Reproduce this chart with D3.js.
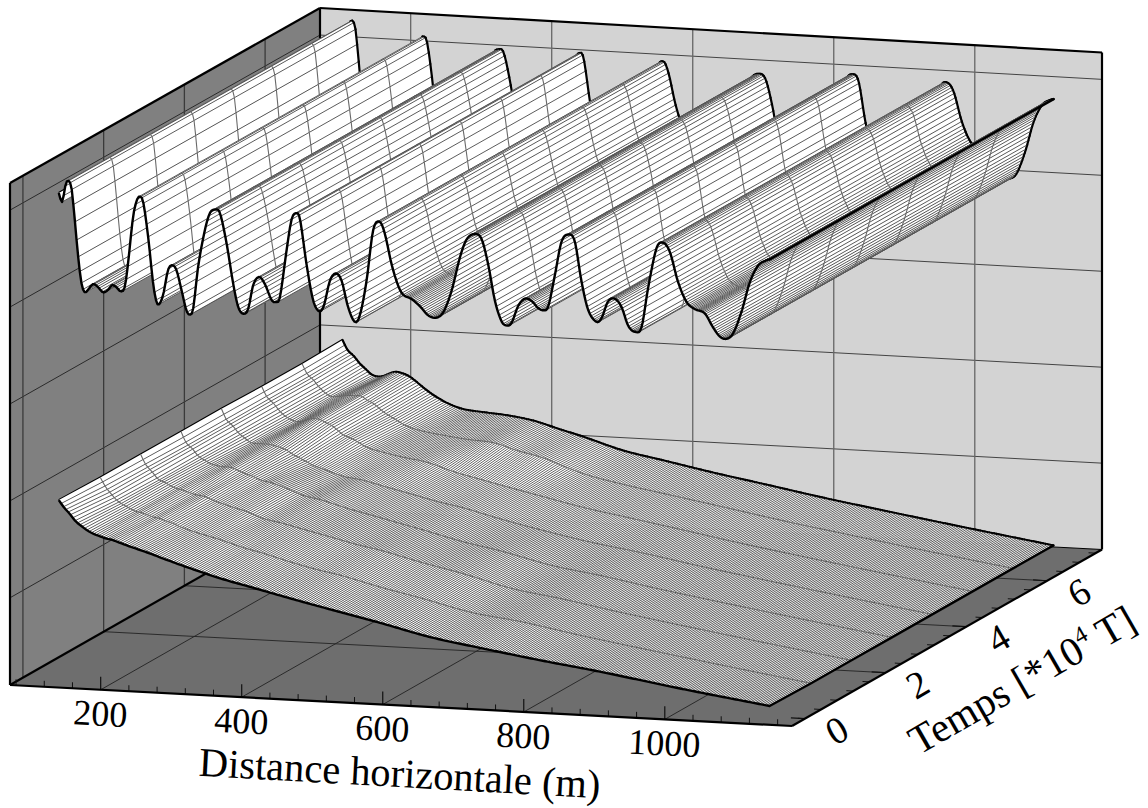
<!DOCTYPE html>
<html><head><meta charset="utf-8">
<style>html,body{margin:0;background:#fff}svg{display:block}text{font-family:"Liberation Serif";fill:#000}</style>
<script src="https://cdn.jsdelivr.net/npm/d3@7"></script></head><body>
<svg id="c" width="1148" height="808"></svg>
<script>
// Axes
const xDomain=[71.4,1180.4], tDomain=[-0.32,7.36], zDomain=[-0.9,4.28];
const xTicks=[200,400,600,800,1000], xMinor=[80,120,160,240,280,320,360,440,480,520,560,640,680,720,760,840,880,920,960,1040,1080,1120,1160];
const tTicks=[0,2,4,6], tMinor=[0.4,0.8,1.2,1.6,2.4,2.8,3.2,3.6,4.4,4.8,5.2,5.6,6.4,6.8,7.2,-0.0];
const zGrid=[0,1,2,3,4];
const tSpan=[-0.03,7.0], tMesh=[1,2,3,4,5,6];
// Upper surface: profile read at the front, extruded along time
const waveX=[124,128.7,134,138.2,142,145.3,151.4,156.2,160.9,165.6,172.7,179.8,186.9,194,199.6,205.9,212,217.6,222.3,229.4,235.1,238.9,243.6,250.7,257.8,262.6,266.3,272,279,285.3,291,298,305.1,309.8,314.5,321.6,331.1,338.2,345.3,352.4,361.9,371.2,378.3,385.4,392.5,399.6,408.1,416.2,425.7,431.8,437.5,447,454,460.2,465.8,475.3,484.7,493.2,499.9,508.4,516.9,525,534.3,543.8,550.9,560.4,569.8,579.3,586.4,595.9,605.3,612.4,624.3,636.1,647.9,658.8,669.2,681.1,692.9,702.4,714.1,723.7,733,742.5,752,759.1,766.1,775.5,785,794.4,803.8,810.9,818,827.5,836.9,847.3,855.8,865.3,874.7,886.6,893.6,903,912.5,922,931.4,940.9,950.4,959.7,971.7,981,990.5,1002.3,1014.2,1026,1040.2,1051.9,1061.4,1071,1080.3,1092.2,1104,1115.8,1127.7,1132.4];
const waveZ=[4.13,4.04,4.23,4.26,4.19,3.97,3.49,3.21,3.12,3.15,3.21,3.18,3.13,3.16,3.21,3.19,3.15,3.2,3.45,3.93,4.11,4.14,4.09,3.73,3.25,3.06,3.04,3.14,3.4,3.45,3.4,3.2,2.99,2.95,3.01,3.45,3.83,4.01,4.05,4.02,3.71,3.3,3.06,2.99,3.04,3.29,3.38,3.31,3.15,3.13,3.18,3.67,3.99,4.06,4.01,3.54,3.17,3.06,3.12,3.38,3.46,3.39,3.12,2.97,3.04,3.4,3.93,4.02,3.9,3.59,3.37,3.28,3.24,3.17,3.08,3.06,3.12,3.35,3.7,3.89,3.95,3.9,3.64,3.27,3.06,3.02,3.05,3.23,3.31,3.29,3.22,3.2,3.24,3.57,3.92,4,3.93,3.52,3.23,3.11,3.15,3.33,3.36,3.28,3.09,3.03,3.08,3.49,3.91,3.97,3.88,3.57,3.37,3.3,3.26,3.12,3.03,3.01,3.07,3.3,3.61,3.79,3.85,3.86];
// Lower surface: one profile per time station
const flatT=[-0.03,1,2,3,4,5,6,7];
const flatX=[124,131,140,148,157,165,174,182,191,199,208,216,225,239,253,274,296,324,359,395,430,466,522,579,650,721,806,891,1005,1132];
const flatT0=[.96,.89,.82,.75,.70,.66,.63,.61,.59,.58,.56,.54,.52,.49,.46,.41,.36,.30,.23,.17,.11,.05,-.04,-.13,-.25,-.335,-.43,-.516,-.647,-.78];
const flatT1=[.95,.86,.78,.72,.68,.65,.62,.61,.59,.57,.56,.54,.52,.48,.45,.41,.37,.31,.25,.18,.12,.07,-.03,-.12,-.24,-.31,-.42,-.52,-.65,-.79];
const flatT2=[.95,.85,.78,.71,.68,.65,.62,.61,.59,.57,.56,.55,.52,.49,.46,.42,.36,.32,.26,.20,.14,.09,-.01,-.10,-.23,-.31,-.42,-.52,-.65,-.79];
const flatT3=[.95,.84,.78,.71,.67,.64,.62,.61,.61,.60,.57,.55,.53,.49,.47,.42,.36,.32,.25,.19,.13,.07,-.03,-.11,-.23,-.31,-.42,-.52,-.65,-.79];
const flatT4=[.95,.84,.78,.71,.66,.62,.61,.61,.61,.60,.58,.56,.52,.47,.42,.37,.32,.29,.23,.17,.11,.06,-.04,-.13,-.23,-.31,-.42,-.52,-.65,-.79];
const flatT5=[.94,.84,.78,.71,.65,.62,.60,.61,.63,.64,.63,.60,.57,.49,.45,.37,.33,.29,.25,.17,.11,.05,-.04,-.13,-.22,-.31,-.42,-.52,-.65,-.79];
const flatT6=[.94,.84,.78,.71,.65,.62,.62,.63,.64,.64,.64,.60,.57,.49,.43,.35,.31,.28,.25,.23,.16,.10,-.04,-.13,-.22,-.31,-.42,-.52,-.65,-.79];
const flatT7=[.95,.85,.79,.72,.66,.61,.59,.60,.63,.65,.64,.62,.58,.50,.43,.35,.30,.28,.26,.22,.15,.08,-.04,-.12,-.22,-.31,-.42,-.52,-.65,-.79];
const flatRows=[flatT0,flatT1,flatT2,flatT3,flatT4,flatT5,flatT6,flatT7];
const xTitle="Distance horizontale (m)";

const svg=d3.select("#c");
const fx=d3.scaleLinear().domain(xDomain).range([0,1]);
const ft=d3.scaleLinear().domain(tDomain).range([0,1]);
const fz=d3.scaleLinear().domain(zDomain).range([0,1]);
const P=(x,t,z)=>{const a=fx(x),b=ft(t),c=fz(z);
  return [10+782*a+310*b, 685+41*a-176.5*b-(502-3.5*a-1.5*b)*c];};
const poly=pts=>"M"+pts.map(p=>p[0].toFixed(2)+","+p[1].toFixed(2)).join("L");
const [x0,x1]=xDomain,[t0,t1]=tDomain,[z0,z1]=zDomain;
const face=(pts,fill)=>svg.append("path").attr("d",poly(pts)+"Z").attr("fill",fill);
const seg=(g,a,b,c,w)=>g.append("path").attr("d",poly([a,b])).attr("stroke",c).attr("stroke-width",w).attr("fill","none");

// Walls and floor
face([P(x0,t0,z0),P(x0,t1,z0),P(x0,t1,z1),P(x0,t0,z1)],"#808080");
face([P(x0,t1,z0),P(x1,t1,z0),P(x1,t1,z1),P(x0,t1,z1)],"#d3d3d3");
face([P(x0,t0,z0),P(x1,t0,z0),P(x1,t1,z0),P(x0,t1,z0)],"#6e6e6e");
const grid=svg.append("g");
zGrid.forEach(z=>{seg(grid,P(x0,t0,z),P(x0,t1,z),"#2a2a2a",1);seg(grid,P(x0,t1,z),P(x1,t1,z),"#444",1);});
xTicks.forEach(x=>{seg(grid,P(x,t1,z0),P(x,t1,z1),"#666",1.3);seg(grid,P(x,t0,z0),P(x,t1,z0),"#222",.9);});
tTicks.forEach(t=>{seg(grid,P(x0,t,z0),P(x0,t,z1),"#3a3a3a",1.3);if(t>0)seg(grid,P(x0,t,z0),P(x1,t,z0),"#222",.9);});
seg(grid,P(x0,t1,z1),P(x0,t1,z0),"#000",2.2);seg(grid,P(x0,t0,z0),P(x0,t1,z0),"#000",2.2);seg(grid,P(x0,t1,z0),P(x1,t1,z0),"#000",1.2);
// Ticks
const ticks=svg.append("g");
xMinor.forEach(x=>{const p=P(x,t0,z0);seg(ticks,p,[p[0],p[1]-6],"#111",1);});
xTicks.forEach(x=>{const p=P(x,t0,z0);seg(ticks,p,[p[0],p[1]-13],"#111",1.2);});
tMinor.forEach(t=>{const p=P(x1,t,z0);seg(ticks,p,[p[0]-7,p[1]-.4],"#111",1);});
tTicks.forEach(t=>{const p=P(x1,t,z0);seg(ticks,p,[p[0]-14,p[1]-.8],"#111",1.2);});

// Smooth curve through read knots, used to place mesh lines between them
function curve(xs,ys){
  const n=xs.length, m=xs.map((_,i)=>i==0?(ys[1]-ys[0])/(xs[1]-xs[0]):i==n-1?(ys[n-1]-ys[n-2])/(xs[n-1]-xs[n-2]):(ys[i+1]-ys[i-1])/(xs[i+1]-xs[i-1]));
  const bis=d3.bisector(d=>d).right;
  return x=>{let i=Math.min(n-2,Math.max(0,bis(xs,x)-1));const h=xs[i+1]-xs[i],s=(x-xs[i])/h,s2=s*s,s3=s2*s;
    return (2*s3-3*s2+1)*ys[i]+(s3-2*s2+s)*h*m[i]+(-2*s3+3*s2)*ys[i+1]+(s3-s2)*h*m[i+1];};
}
function surface(stepAt,hatchW,ts,profiles,xStart,xEnd){
  const g=svg.append("g");
  const zt=ts.length==2?((x,t)=>profiles[0](x)):((x,t)=>{let i=Math.min(ts.length-2,d3.bisectRight(ts,t)-1);const s=(t-ts[i])/(ts[i+1]-ts[i]);return profiles[i](x)*(1-s)+profiles[i+1](x)*s;});
  const tLine=[tSpan[0],...tMesh,tSpan[1]];
  const mesh=[];for(let x=xStart;x<xEnd;x+=stepAt(x))mesh.push(x);mesh.push(xEnd);
  const along=x=>tLine.map(t=>P(x,t,zt(x,t)));
  g.append("path").attr("d",poly(along(xStart))).attr("fill","none").attr("stroke","#000").attr("stroke-width",2.2);
  for(let i=0;i<mesh.length-1;i++){
    const a=mesh[i],b=mesh[i+1],la=along(a),lb=along(b);
    g.append("path").attr("d",poly(la.concat(lb.slice().reverse()))+"Z").attr("fill","#fff");
    if(i>0) g.append("path").attr("d",poly(la)).attr("fill","none").attr("stroke","#4a4a4a").attr("stroke-width",hatchW);
    g.append("path").attr("d",tMesh.map(t=>poly([P(a,t,zt(a,t)),P(b,t,zt(b,t))])).join("")).attr("fill","none").attr("stroke","#6a6a6a").attr("stroke-width",1.1);
    g.append("path").attr("d",poly([P(a,tSpan[1],zt(a,tSpan[1])),P(b,tSpan[1],zt(b,tSpan[1]))])).attr("fill","none").attr("stroke","#000").attr("stroke-width",2.2).attr("stroke-linecap","round");
  }
  g.append("path").attr("d",poly(along(xEnd))).attr("fill","none").attr("stroke","#000").attr("stroke-width",2.4).attr("stroke-linecap","round");
  const line=d3.line().x(d=>P(d,tSpan[0],zt(d,tSpan[0]))[0]).y(d=>P(d,tSpan[0],zt(d,tSpan[0]))[1]);
  g.append("path").attr("d",line(mesh)).attr("fill","none").attr("stroke","#000").attr("stroke-width",2.4).attr("stroke-linejoin","round");
}
const upperStep=d3.scaleLinear().domain([124,1132]).range([2.3,1.7]);
surface(upperStep,.9,tSpan,[curve(waveX,waveZ)],waveX[0],waveX[waveX.length-1]);
surface(()=>3.3,.85,flatT,flatRows.map(r=>curve(flatX,r)),flatX[0],flatX[flatX.length-1]);

// Box edges
const edges=svg.append("g");
[[P(x0,t0,z1),P(x0,t0,z0)],[P(x0,t0,z0),P(x1,t0,z0)],[P(x1,t0,z0),P(x1,t1,z0)],[P(x1,t1,z0),P(x1,t1,z1)],[P(x1,t1,z1),P(x0,t1,z1)],[P(x0,t1,z1),P(x0,t0,z1)]].forEach(e=>seg(edges,e[0],e[1],"#000",2.2));

// Labels
const lab=svg.append("g");
xTicks.forEach(x=>{const p=P(x,t0,z0);lab.append("text").attr("transform",`translate(${p[0]-1},${p[1]+36}) rotate(3)`).attr("text-anchor","middle").attr("font-size",36).text(x);});
tTicks.forEach(t=>{const p=P(x1,t,z0);lab.append("text").attr("transform",`translate(${p[0]+32},${p[1]+12}) rotate(-30)`).attr("text-anchor","middle").attr("dy","0.33em").attr("font-size",38).text(t);});
lab.append("text").attr("transform","translate(399,787) rotate(3.2)").attr("text-anchor","middle").attr("font-size",41).attr("textLength",402).attr("lengthAdjust","spacingAndGlyphs").text(xTitle);
const tt=lab.append("text").attr("transform","translate(1029,692) rotate(-30)").attr("text-anchor","middle").attr("font-size",41);
tt.append("tspan").text("Temps [*10");
tt.append("tspan").attr("dy",-16).attr("font-size",24).text("4");
tt.append("tspan").attr("dy",16).text(" T]");
</script></body></html>
